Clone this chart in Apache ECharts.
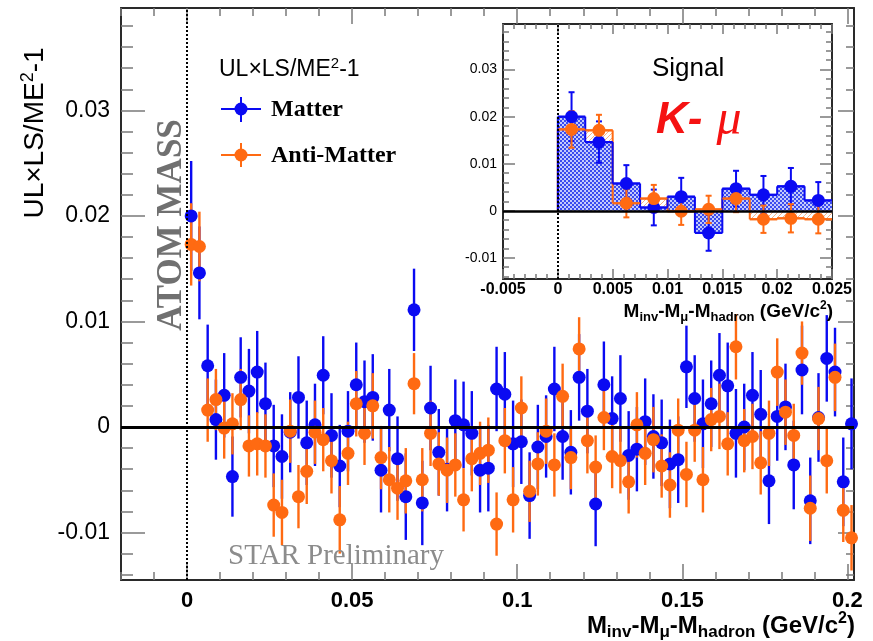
<!DOCTYPE html>
<html>
<head>
<meta charset="utf-8">
<script src="https://cdn.jsdelivr.net/npm/echarts@6/dist/echarts.min.js"></script>
<style>
  html, body { margin: 0; padding: 0; background: #ffffff; }
  #chart { width: 873px; height: 641px; }
</style>
</head>
<body>
<div id="chart"></div>
<script>
// Histogram binning of M_inv - M_mu - M_hadron (GeV/c^2)
const binStart = 0;
const binWidth = 0.0025;

// UL x LS / ME^2 - 1 per bin, Matter
const matter = [
  0.0200, 0.0146, 0.0058, 0.0007, 0.0030, -0.0047, 0.0047, 0.0034, 0.0052, 0.0022,
  -0.0018, -0.0028, -0.0005, 0.0028, -0.0015, 0.0002, 0.0049, -0.0008, -0.0037, -0.0004,
  0.0040, 0.0024, 0.0028, -0.0041, 0.0016, -0.0030, -0.0066, 0.0111, -0.0072, 0.0018,
  -0.0024, -0.0040, 0.0006, 0.0002, -0.0006, -0.0041, -0.0039, 0.0036, 0.0031, -0.0016,
  -0.0014, -0.0065, -0.0019, -0.0009, 0.0036, -0.0009, -0.0024, 0.0047, 0.0015, -0.0073,
  0.0040, 0.0008, 0.0027, -0.0027, -0.0021, 0.0005, -0.0009, -0.0015, -0.0035, -0.0031,
  0.0057, 0.0027, 0.0003, 0.0022, 0.0049, 0.0039, -0.0006, 0.0000, 0.0030, 0.0012,
  -0.0051, 0.0010, 0.0019, -0.0036, 0.0054, -0.0070, 0.0009, 0.0065, 0.0052, -0.0052, 0.0003
];
const matterErr = [
  0.0052, 0.0044, 0.0039, 0.0038, 0.0040, 0.0038, 0.0038, 0.0040, 0.0039, 0.0039,
  0.0039, 0.0040, 0.0038, 0.0039, 0.0040, 0.0039, 0.0037, 0.0040, 0.0039, 0.0038,
  0.0040, 0.0039, 0.0041, 0.0040, 0.0039, 0.0040, 0.0041, 0.0039, 0.0040, 0.0040,
  0.0041, 0.0040, 0.0039, 0.0041, 0.0040, 0.0040, 0.0041, 0.0040, 0.0040, 0.0041,
  0.0040, 0.0041, 0.0040, 0.0039, 0.0040, 0.0041, 0.0040, 0.0041, 0.0040, 0.0040,
  0.0041, 0.0040, 0.0041, 0.0042, 0.0040, 0.0041, 0.0040, 0.0041, 0.0042, 0.0041,
  0.0039, 0.0041, 0.0042, 0.0041, 0.0040, 0.0041, 0.0042, 0.0041, 0.0041, 0.0042,
  0.0041, 0.0042, 0.0041, 0.0042, 0.0042, 0.0041, 0.0042, 0.0041, 0.0042, 0.0042, 0.0043
];

// UL x LS / ME^2 - 1 per bin, Anti-Matter
const antiMatter = [
  0.0173, 0.0171, 0.0016, 0.0026, -0.0001, 0.0003, 0.0026, -0.0018, -0.0016, -0.0018,
  -0.0074, -0.0081, -0.0004, -0.0066, -0.0042, -0.0005, -0.0012, -0.0032, -0.0088, -0.0025,
  0.0022, -0.0006, 0.0020, -0.0029, -0.0050, -0.0058, -0.0051, 0.0041, -0.0050, -0.0006,
  -0.0035, -0.0041, -0.0036, -0.0069, -0.0030, -0.0025, -0.0022, -0.0092, -0.0013, -0.0069,
  0.0018, -0.0061, -0.0035, -0.0004, -0.0036, 0.0029, -0.0029, 0.0074, -0.0013, -0.0038,
  0.0009, -0.0028, -0.0032, -0.0052, 0.0002, -0.0025, -0.0012, -0.0037, -0.0055, -0.0003,
  -0.0045, -0.0003, -0.0050, 0.0007, 0.0010, -0.0016, 0.0076, -0.0013, -0.0009, -0.0034,
  -0.0006, 0.0052, 0.0014, -0.0008, 0.0070, -0.0077, 0.0008, -0.0032, 0.0047, -0.0079, -0.0105
];
const antiMatterErr = [
  0.0039, 0.0033, 0.0030, 0.0029, 0.0029, 0.0029, 0.0029, 0.0029, 0.0030, 0.0030,
  0.0030, 0.0031, 0.0030, 0.0030, 0.0031, 0.0030, 0.0030, 0.0031, 0.0032, 0.0030,
  0.0031, 0.0030, 0.0031, 0.0030, 0.0031, 0.0030, 0.0031, 0.0029, 0.0030, 0.0031,
  0.0030, 0.0031, 0.0030, 0.0030, 0.0031, 0.0030, 0.0031, 0.0030, 0.0031, 0.0031,
  0.0030, 0.0029, 0.0030, 0.0031, 0.0030, 0.0031, 0.0030, 0.0030, 0.0031, 0.0030,
  0.0031, 0.0030, 0.0031, 0.0030, 0.0031, 0.0030, 0.0031, 0.0030, 0.0031, 0.0030,
  0.0031, 0.0030, 0.0031, 0.0030, 0.0031, 0.0030, 0.0031, 0.0030, 0.0031, 0.0030,
  0.0031, 0.0032, 0.0031, 0.0030, 0.0030, 0.0031, 0.0030, 0.0031, 0.0032, 0.0030, 0.0031
];

// Number of bins shown in the zoomed "Signal" pad
const insetBins = 10;

// Axis ranges and labelled tick values
const mainXRange = [-0.02, 0.202];
const mainYRange = [-0.0145, 0.0397];
const insetXRange = [-0.005, 0.025];
const mainXMajor = [0, 0.05, 0.1, 0.15, 0.2];
const mainYMajor = [-0.01, 0, 0.01, 0.02, 0.03];
const insetXMajor = [-0.005, 0, 0.005, 0.01, 0.015, 0.02, 0.025];
const insetYMajor = [-0.01, 0, 0.01, 0.02, 0.03];

// ---------------------------------------------------------------------------
const SANS = 'Liberation Sans';
const SERIF = 'Liberation Serif';
const BLUE = '#0a0af2';
const ORANGE = '#ff6a12';
const FRAME = '#2a2a2a';
const TICK = '#7a7a7a';

function steps(a, b, s) {
  const out = [];
  const n = Math.round((b - a) / s);
  for (let k = 0; k <= n; k++) out.push(+(a + k * s).toFixed(6));
  return out;
}
const mainXMinor = steps(-0.02, 0.2, 0.01);
const mainYMinor = steps(-0.014, 0.038, 0.002);
const insetXMinor = steps(-0.005, 0.025, 0.001);
const insetYMinor = steps(-0.014, 0.038, 0.002);

const centers = matter.map((_, i) => binStart + (i + 0.5) * binWidth);
const matterData = centers.map((x, i) => [x, matter[i], matterErr[i]]);
const antiData = centers.map((x, i) => [x, antiMatter[i], antiMatterErr[i]]);
const matterInset = matterData.slice(0, insetBins);
const antiInset = antiData.slice(0, insetBins);
function withPrev(rows) {
  return rows.map((r, i) => [r[0], r[1], i === 0 ? 0 : rows[i - 1][1]]);
}

// Fill patterns for the zoomed histogram
function dotPattern() {
  const c = document.createElement('canvas');
  c.width = 4; c.height = 4;
  const g = c.getContext('2d');
  g.fillStyle = '#c3c9fc'; g.fillRect(0, 0, 4, 4);
  g.fillStyle = '#3a4bef';
  g.fillRect(0, 0, 2, 2); g.fillRect(2, 2, 2, 2);
  return { image: c, repeat: 'repeat' };
}
function hatchPattern() {
  const c = document.createElement('canvas');
  c.width = 5; c.height = 5;
  const g = c.getContext('2d');
  g.fillStyle = '#ffffff'; g.fillRect(0, 0, 5, 5);
  g.strokeStyle = '#f6b088'; g.lineWidth = 1;
  g.beginPath();
  g.moveTo(-1, 6); g.lineTo(6, -1);
  g.stroke();
  return { image: c, repeat: 'repeat' };
}

function axis(gridIndex, position, range, ticks, tickLen, showLine, labels, labelStyle) {
  return {
    type: 'value', gridIndex, position, min: range[0], max: range[1],
    axisLine: { show: showLine, onZero: false, lineStyle: { color: FRAME, width: 2 } },
    axisTick: { show: true, inside: true, length: tickLen, customValues: ticks,
                lineStyle: { color: TICK, width: 1.5 } },
    axisLabel: labels ? Object.assign({ show: true, customValues: labels }, labelStyle) : { show: false },
    splitLine: { show: false }
  };
}

// Vertical error bar plus horizontal bin-width bar, optional end caps
function errorBars(color, lineWidth, cap) {
  return function (params, api) {
    const x = api.value(0), y = api.value(1), e = api.value(2);
    const top = api.coord([x, y + e]);
    const bot = api.coord([x, y - e]);
    const l = api.coord([x - binWidth / 2, y]);
    const r = api.coord([x + binWidth / 2, y]);
    const st = { stroke: color, lineWidth };
    const kids = [
      { type: 'line', shape: { x1: top[0], y1: top[1], x2: bot[0], y2: bot[1] }, style: st },
      { type: 'line', shape: { x1: l[0], y1: l[1], x2: r[0], y2: r[1] }, style: st }
    ];
    if (cap) {
      kids.push({ type: 'line', shape: { x1: top[0] - cap, y1: top[1], x2: top[0] + cap, y2: top[1] }, style: st });
      kids.push({ type: 'line', shape: { x1: bot[0] - cap, y1: bot[1], x2: bot[0] + cap, y2: bot[1] }, style: st });
    }
    return { type: 'group', children: kids };
  };
}

function histFill(pattern) {
  return function (params, api) {
    const x = api.value(0), v = api.value(1);
    const a = api.coord([x - binWidth / 2, 0]);
    const b = api.coord([x + binWidth / 2, v]);
    return {
      type: 'rect',
      shape: { x: a[0], y: Math.min(a[1], b[1]), width: b[0] - a[0], height: Math.abs(b[1] - a[1]) },
      style: { fill: pattern }
    };
  };
}

function histOutline(color) {
  return function (params, api) {
    const x = api.value(0), v = api.value(1), prev = api.value(2);
    const a = api.coord([x - binWidth / 2, v]);
    const b = api.coord([x + binWidth / 2, v]);
    const p = api.coord([x - binWidth / 2, prev]);
    const st = { stroke: color, lineWidth: 2 };
    return {
      type: 'group',
      children: [
        { type: 'line', shape: { x1: a[0], y1: a[1], x2: b[0], y2: b[1] }, style: st },
        { type: 'line', shape: { x1: p[0], y1: p[1], x2: a[0], y2: a[1] }, style: st }
      ]
    };
  };
}

const refLines = (width) => ({
  silent: true, symbol: 'none', animation: false, label: { show: false },
  data: [
    { yAxis: 0, lineStyle: { color: '#000', width: width, type: 'solid' } },
    { xAxis: 0, lineStyle: { color: '#000', width: 2, type: [2, 2] } }
  ]
});

const chart = echarts.init(document.getElementById('chart'));

const xLabelMain = { fontSize: 22, fontWeight: 'bold', fontFamily: SANS, color: '#000', margin: 10 };
const yLabelMain = { fontSize: 23, fontFamily: SANS, color: '#000', margin: 11 };
const xLabelInset = { fontSize: 16, fontWeight: 'bold', fontFamily: SANS, color: '#000', margin: 3 };
const yLabelInset = { fontSize: 14, fontFamily: SANS, color: '#000', margin: 6 };

chart.setOption({
  animation: false,
  backgroundColor: '#ffffff',
  grid: [
    { left: 121, top: 8, width: 733, height: 572, containLabel: false },
    { left: 503, top: 24, width: 329, height: 255, containLabel: false,
      show: true, backgroundColor: '#ffffff', borderWidth: 0 }
  ],
  xAxis: [
    axis(0, 'bottom', mainXRange, mainXMinor, 8, true, mainXMajor, xLabelMain),
    axis(0, 'bottom', mainXRange, mainXMajor, 16, false),
    axis(0, 'top', mainXRange, mainXMinor, 8, true),
    axis(0, 'top', mainXRange, mainXMajor, 16, false),
    axis(1, 'bottom', insetXRange, insetXMinor, 5, true, insetXMajor, xLabelInset),
    axis(1, 'bottom', insetXRange, insetXMajor, 10, false),
    axis(1, 'top', insetXRange, insetXMinor, 5, true),
    axis(1, 'top', insetXRange, insetXMajor, 10, false)
  ],
  yAxis: [
    axis(0, 'left', mainYRange, mainYMinor, 12, true, mainYMajor, yLabelMain),
    axis(0, 'left', mainYRange, mainYMajor, 24, false),
    axis(0, 'right', mainYRange, mainYMinor, 8, true),
    axis(0, 'right', mainYRange, mainYMajor, 16, false),
    axis(1, 'left', mainYRange, insetYMinor, 6, true, insetYMajor, yLabelInset),
    axis(1, 'left', mainYRange, insetYMajor, 12, false),
    axis(1, 'right', mainYRange, insetYMinor, 6, true),
    axis(1, 'right', mainYRange, insetYMajor, 12, false)
  ],
  series: [
    // ---- main pad
    { type: 'custom', name: 'Matter err', xAxisIndex: 0, yAxisIndex: 0, clip: true,
      renderItem: errorBars(BLUE, 2.4, 0), data: matterData, encode: { x: 0, y: 1 },
      markLine: refLines(3) },
    { type: 'scatter', name: 'Matter', xAxisIndex: 0, yAxisIndex: 0, symbolSize: 13,
      itemStyle: { color: BLUE, opacity: 1 }, data: matterData },
    { type: 'custom', name: 'Anti-Matter err', xAxisIndex: 0, yAxisIndex: 0, clip: true,
      renderItem: errorBars(ORANGE, 2.4, 0), data: antiData, encode: { x: 0, y: 1 } },
    { type: 'scatter', name: 'Anti-Matter', xAxisIndex: 0, yAxisIndex: 0, symbolSize: 13,
      itemStyle: { color: ORANGE, opacity: 1 }, data: antiData },

    // ---- zoomed signal pad
    { type: 'custom', xAxisIndex: 4, yAxisIndex: 4, clip: true,
      renderItem: histFill(hatchPattern()), data: antiInset, encode: { x: 0, y: 1 } },
    { type: 'custom', xAxisIndex: 4, yAxisIndex: 4, clip: true,
      renderItem: histFill(dotPattern()), data: matterInset, encode: { x: 0, y: 1 } },
    { type: 'custom', xAxisIndex: 4, yAxisIndex: 4, clip: true,
      renderItem: histOutline(ORANGE), data: withPrev(antiInset), encode: { x: 0, y: 1 } },
    { type: 'custom', xAxisIndex: 4, yAxisIndex: 4, clip: true,
      renderItem: histOutline(BLUE), data: withPrev(matterInset), encode: { x: 0, y: 1 },
      markLine: refLines(2.5) },
    { type: 'custom', xAxisIndex: 4, yAxisIndex: 4, clip: true,
      renderItem: errorBars(BLUE, 2, 3), data: matterInset, encode: { x: 0, y: 1 } },
    { type: 'scatter', xAxisIndex: 4, yAxisIndex: 4, symbolSize: 13,
      itemStyle: { color: BLUE, opacity: 1 }, data: matterInset },
    { type: 'custom', xAxisIndex: 4, yAxisIndex: 4, clip: true,
      renderItem: errorBars(ORANGE, 2, 3), data: antiInset, encode: { x: 0, y: 1 } },
    { type: 'scatter', xAxisIndex: 4, yAxisIndex: 4, symbolSize: 13,
      itemStyle: { color: ORANGE, opacity: 1 }, data: antiInset }
  ],
  graphic: [
    // y-axis title
    { type: 'text', x: 35, y: 133, rotation: Math.PI / 2, z: 10,
      style: { text: '{t|UL×LS/ME}{sup|2}{t|-1}', align: 'center', verticalAlign: 'middle', fill: '#000',
        rich: { t: { fontSize: 28, fontFamily: SANS, lineHeight: 32 },
                sup: { fontSize: 18, fontFamily: SANS, lineHeight: 18, verticalAlign: 'top' } } } },
    // x-axis title
    { type: 'text', x: 855, y: 626, z: 10,
      style: { text: '{t|M}{s|inv}{t|-M}{s|μ}{t|-M}{s|hadron}{t| (GeV/c}{p|2}{t|)}',
        align: 'right', verticalAlign: 'middle', fill: '#000',
        rich: { t: { fontSize: 24, fontWeight: 'bold', fontFamily: SANS, lineHeight: 30 },
                s: { fontSize: 17, fontWeight: 'bold', fontFamily: SANS, lineHeight: 17, verticalAlign: 'bottom' },
                p: { fontSize: 16, fontWeight: 'bold', fontFamily: SANS, lineHeight: 16, verticalAlign: 'top' } } } },
    // legend
    { type: 'text', x: 219, y: 70, z: 10,
      style: { text: '{t|UL×LS/ME}{sup|2}{t|-1}', align: 'left', verticalAlign: 'middle', fill: '#000',
        rich: { t: { fontSize: 23, fontFamily: SANS, lineHeight: 28 },
                sup: { fontSize: 15, fontFamily: SANS, lineHeight: 15, verticalAlign: 'top' } } } },
    { type: 'line', z: 10, shape: { x1: 221, y1: 109, x2: 261, y2: 109 }, style: { stroke: BLUE, lineWidth: 2 } },
    { type: 'line', z: 10, shape: { x1: 241, y1: 97, x2: 241, y2: 122 }, style: { stroke: BLUE, lineWidth: 2 } },
    { type: 'circle', z: 10, shape: { cx: 241, cy: 109, r: 6.5 }, style: { fill: BLUE } },
    { type: 'text', x: 271, y: 110, z: 10,
      style: { text: 'Matter', fontSize: 24, fontWeight: 'bold', fontFamily: SERIF, fill: '#000',
        align: 'left', verticalAlign: 'middle' } },
    { type: 'line', z: 10, shape: { x1: 221, y1: 155, x2: 261, y2: 155 }, style: { stroke: ORANGE, lineWidth: 2 } },
    { type: 'line', z: 10, shape: { x1: 241, y1: 143, x2: 241, y2: 167 }, style: { stroke: ORANGE, lineWidth: 2 } },
    { type: 'circle', z: 10, shape: { cx: 241, cy: 155, r: 6.5 }, style: { fill: ORANGE } },
    { type: 'text', x: 271, y: 156, z: 10,
      style: { text: 'Anti-Matter', fontSize: 24, fontWeight: 'bold', fontFamily: SERIF, fill: '#000',
        align: 'left', verticalAlign: 'middle' } },
    // annotations in the main pad
    { type: 'text', x: 172, y: 225, rotation: Math.PI / 2, z: 10,
      style: { text: 'ATOM MASS', fontSize: 35, fontWeight: 'bold', fontFamily: SERIF, fill: '#707070',
        align: 'center', verticalAlign: 'middle' } },
    { type: 'text', x: 228, y: 556, z: 10,
      style: { text: 'STAR Preliminary', fontSize: 29, fontFamily: SERIF, fill: '#8c8c8c',
        align: 'left', verticalAlign: 'middle' } },
    // signal pad texts
    { type: 'text', x: 652, y: 69, z: 10,
      style: { text: 'Signal', fontSize: 26, fontFamily: SANS, fill: '#000', align: 'left', verticalAlign: 'middle' } },
    { type: 'text', x: 656, y: 121, z: 10,
      style: { text: '{k|K-}{m|μ}', align: 'left', verticalAlign: 'middle',
        rich: { k: { fontSize: 44, fontWeight: 'bold', fontStyle: 'italic', fontFamily: SANS, fill: '#f51212', lineHeight: 50 },
                m: { fontSize: 50, fontStyle: 'italic', fontFamily: SERIF, fill: '#f51212', lineHeight: 50,
                     padding: [0, 0, 0, 14] } } } },
    { type: 'text', x: 833, y: 312, z: 10,
      style: { text: '{t|M}{s|inv}{t|-M}{s|μ}{t|-M}{s|hadron}{t| (GeV/c}{p|2}{t|)}',
        align: 'right', verticalAlign: 'middle', fill: '#000',
        rich: { t: { fontSize: 19, fontWeight: 'bold', fontFamily: SANS, lineHeight: 24 },
                s: { fontSize: 13, fontWeight: 'bold', fontFamily: SANS, lineHeight: 13, verticalAlign: 'bottom' },
                p: { fontSize: 12, fontWeight: 'bold', fontFamily: SANS, lineHeight: 12, verticalAlign: 'top' } } } }
  ]
});
</script>
</body>
</html>
